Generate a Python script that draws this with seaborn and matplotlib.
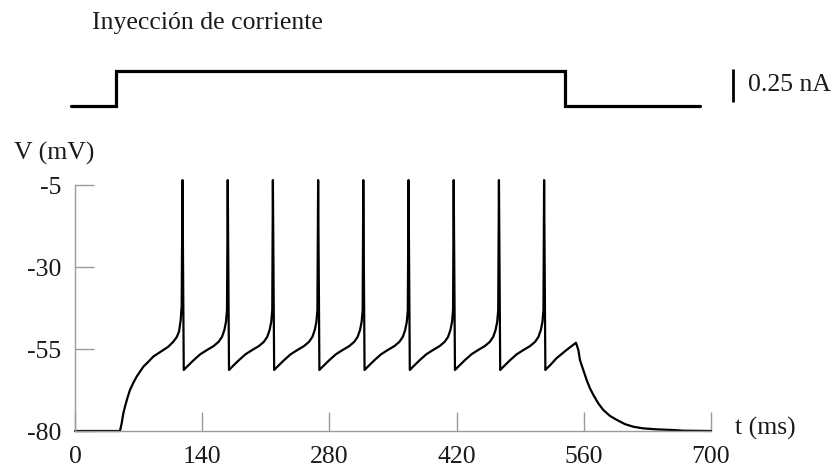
import matplotlib
matplotlib.use("Agg")
import matplotlib.pyplot as plt
import seaborn as sns
import pandas as pd

# ---- data ----
current_t = [0, 50, 50, 550, 550, 700]
current_nA = [0.0, 0.0, 0.27, 0.27, 0.0, 0.0]

volt_t = [
    0, 49.5, 51.4, 53.2, 55.0, 57.6, 60.5, 64.2, 67.9, 71.5, 75.2, 80.7, 86.2, 91.7, 97.2,
    102.7, 108.1, 111.9, 114.5, 116.3, 117.4, 118.3,
    119.7, 121.4, 125.1, 130.6, 137.9, 145.3, 152.6, 158.1, 161.8, 164.4, 166.2, 167.3, 168.1,
    169.5, 171.2, 174.9, 180.4, 187.7, 195.1, 202.4, 207.9, 211.6, 214.2, 216.0, 217.1, 217.8,
    219.2, 220.9, 224.6, 230.1, 237.4, 244.8, 252.1, 257.6, 261.3, 263.9, 265.7, 266.8, 267.6,
    269.0, 270.7, 274.4, 279.9, 287.2, 294.6, 301.9, 307.4, 311.1, 313.7, 315.5, 316.6, 317.3,
    318.7, 320.4, 324.1, 329.6, 336.9, 344.3, 351.6, 357.1, 360.8, 363.4, 365.2, 366.3, 367.1,
    368.5, 370.2, 373.9, 379.4, 386.7, 394.1, 401.4, 406.9, 410.6, 413.2, 415.0, 416.1, 416.8,
    418.2, 419.9, 423.6, 429.1, 436.4, 443.8, 451.1, 456.6, 460.3, 462.9, 464.7, 465.8, 466.6,
    468.0, 469.7, 473.4, 478.9, 486.2, 493.6, 500.9, 506.4, 510.1, 512.7, 514.5, 515.6, 516.3,
    517.7, 519.4, 523.1, 530.0, 541.0, 551.4,
    554.0, 555.8, 559.5, 563.2, 566.8, 570.5, 576.0, 581.5, 588.8, 596.2, 605.3, 614.5,
    625.5, 640.2, 658.5, 669.5, 700.0,
]
volt_mV = [
    -80, -80, -77.6, -74.6, -72.6, -70.0, -67.5, -65.3, -63.4, -61.9, -60.4, -58.9, -57.3, -56.3, -55.3,
    -54.3, -52.8, -51.4, -49.7, -46.2, -42.0, -3.5,
    -61.4, -60.9, -59.9, -58.4, -56.6, -55.3, -54.1, -52.8, -51.3, -49.2, -46.7, -43.1, -3.5,
    -61.4, -60.9, -59.9, -58.4, -56.6, -55.3, -54.1, -52.8, -51.3, -49.2, -46.7, -43.1, -3.5,
    -61.4, -60.9, -59.9, -58.4, -56.6, -55.3, -54.1, -52.8, -51.3, -49.2, -46.7, -43.1, -3.5,
    -61.4, -60.9, -59.9, -58.4, -56.6, -55.3, -54.1, -52.8, -51.3, -49.2, -46.7, -43.1, -3.5,
    -61.4, -60.9, -59.9, -58.4, -56.6, -55.3, -54.1, -52.8, -51.3, -49.2, -46.7, -43.1, -3.5,
    -61.4, -60.9, -59.9, -58.4, -56.6, -55.3, -54.1, -52.8, -51.3, -49.2, -46.7, -43.1, -3.5,
    -61.4, -60.9, -59.9, -58.4, -56.6, -55.3, -54.1, -52.8, -51.3, -49.2, -46.7, -43.1, -3.5,
    -61.4, -60.9, -59.9, -58.4, -56.6, -55.3, -54.1, -52.8, -51.3, -49.2, -46.7, -43.1, -3.5,
    -61.4, -60.9, -59.9, -57.8, -55.3, -53.1,
    -55.3, -58.4, -61.4, -64.5, -67.0, -69.0, -71.6, -73.6, -75.4, -76.6, -77.9, -78.7,
    -79.2, -79.5, -79.7, -79.9, -80.0,
]

x_ticks = [0, 140, 280, 420, 560, 700]
y_ticks = [-80, -55, -30, -5]
title = "Inyección de corriente"
scale_label = "0.25 nA"
y_label = "V (mV)"
x_label = "t (ms)"

# ---- style ----
sns.set_theme(style="white")
plt.rcParams["font.family"] = ["Liberation Serif", "DejaVu Serif"]
FS = 18.5
AX_COLOR = "#9a9a9a"
TXT = "#1a1a1a"

fig = plt.figure(figsize=(8.4, 4.7), dpi=100)

# current injection panel
ax_i = fig.add_axes([71 / 840, 1 - 106 / 470, 629 / 840, 35 / 470])
df_i = pd.DataFrame({"t": current_t, "I": current_nA})
sns.lineplot(data=df_i, x="t", y="I", ax=ax_i, sort=False, estimator=None,
             color="black", linewidth=2.3)
for ln in ax_i.lines:
    ln.set_clip_on(False)
    ln.set_solid_joinstyle("miter")
ax_i.set_xlim(0, 700)
ax_i.set_ylim(0, 0.27)
ax_i.axis("off")
ax_i.plot([736.5, 736.5], [0.033, 0.283], color="black", linewidth=2.0,
          clip_on=False, solid_capstyle="butt")
ax_i.text(753, 0.16, scale_label, fontsize=FS, va="center", ha="left", color=TXT)
fig.text(92 / 840, 1 - 23 / 470, title, fontsize=FS, va="center", ha="left", color=TXT)

# voltage panel
ax_v = fig.add_axes([75 / 840, 1 - 431 / 470, 636 / 840, 246 / 470])
df_v = pd.DataFrame({"t": volt_t, "V": volt_mV})
sns.lineplot(data=df_v, x="t", y="V", ax=ax_v, sort=False, estimator=None,
             color="black", linewidth=1.6)
for ln in ax_v.lines:
    ln.set_clip_on(False)
ax_v.set_xlim(0, 700)
ax_v.set_ylim(-80, -5)
ax_v.set_xlabel("")
ax_v.set_ylabel("")
for side in ["top", "right"]:
    ax_v.spines[side].set_visible(False)
for side in ["left", "bottom"]:
    ax_v.spines[side].set_color(AX_COLOR)
    ax_v.spines[side].set_linewidth(1.0)
ax_v.set_xticks(x_ticks)
ax_v.set_yticks(y_ticks)
ax_v.set_xticklabels([str(v) for v in x_ticks])
ax_v.set_yticklabels([str(v) for v in y_ticks])
ax_v.tick_params(axis="both", which="major", bottom=True, left=True,
                 direction="in", length=13.5, width=1.0,
                 color=AX_COLOR, labelsize=FS, labelcolor=TXT)
ax_v.tick_params(axis="x", pad=11)
ax_v.tick_params(axis="y", pad=10)
ax_v.set_zorder(2)

fig.text(14 / 840, 1 - 153 / 470, y_label, fontsize=FS, va="center", ha="left", color=TXT)
fig.text(735 / 840, 1 - 428 / 470, x_label, fontsize=FS, va="center", ha="left", color=TXT)

fig.savefig("out.png", dpi=100)
